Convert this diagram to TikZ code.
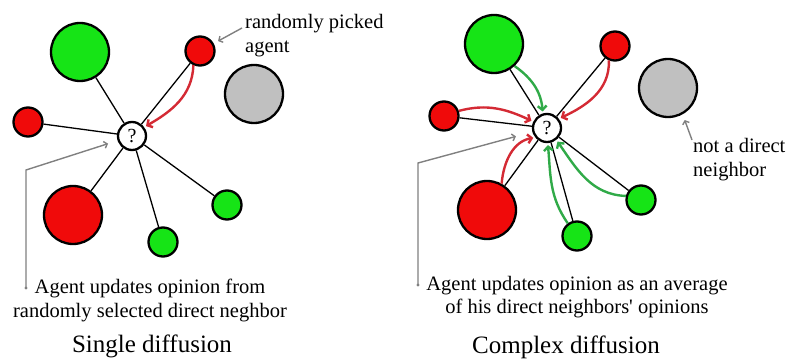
\documentclass[tikz,border=0pt]{standalone}
\usepackage{fontspec}
\setmainfont{Liberation Serif}
\usetikzlibrary{arrows.meta}
\definecolor{agreen}{RGB}{22,228,22}
\definecolor{ared}{RGB}{240,10,10}
\definecolor{agray}{RGB}{192,192,192}
\definecolor{flowred}{RGB}{212,42,52}
\definecolor{flowgreen}{RGB}{48,170,72}
\definecolor{notegray}{RGB}{128,128,128}
\begin{document}
\begin{tikzpicture}[x=1pt,y=1pt,
  agent/.style={circle, draw, line width=2.3pt, inner sep=0pt},
  big/.style={agent, minimum size=58pt},
  small/.style={agent, minimum size=29pt},
  focus/.style={agent, fill=white, minimum size=28pt, font=\fontsize{20}{20}\selectfont},
  link/.style={line width=1.3pt},
  rarr/.style={-{Straight Barb[length=4pt, width=9pt]}, line width=2.4pt, flowred, shorten >=2pt},
  garr/.style={rarr, flowgreen},
  note/.style={-{Straight Barb[length=3pt, width=7pt]}, line width=1.4pt, notegray},
  txt/.style={inner sep=0pt, font=\fontsize{20.5}{24}\selectfont},
  title/.style={inner sep=0pt, font=\fontsize{25}{25}\selectfont}]
\useasboundingbox (0,0) rectangle (789,359);
\node[big, fill=agreen] (bg1) at (80,307) {};
\node[small, fill=ared] (sr1) at (200,308) {};
\node[big, fill=agray] (gy1) at (254,265) {};
\node[small, fill=ared] (rl1) at (28,237) {};
\node[focus] (q1) at (132,223) {?};
\node[big, fill=ared] (br1) at (73,144) {};
\node[small, fill=agreen] (gb1) at (163,117) {};
\node[small, fill=agreen] (gr1) at (227,154) {};
\foreach \n in {bg1,sr1,rl1,br1,gb1,gr1} \draw[link] (q1) -- (\n);
\draw[rarr] (sr1.245) to[out=-92, in=30] (q1.36);
\node[txt, anchor=north west, align=left] (pick) at (245,345) {randomly picked\\agent};
\coordinate (pickfrom) at (242,331);
\draw[note, shorten >=5pt] (pickfrom) -- (sr1);
\node[txt, anchor=north, align=center] (upd1) at (150,80) {Agent updates opinion from\\randomly selected direct neghbor};
\coordinate (dot1) at (26,71);
\coordinate (bend1) at (26,189);
\fill[notegray] (dot1) circle (1.7pt);
\draw[note, shorten >=10pt] (dot1) -- (bend1) -- (q1);
\node[title, anchor=base] (t1) at (152,7) {Single diffusion};

\node[big, fill=agreen] (bg2) at (494,315) {};
\node[small, fill=ared] (sr2) at (615,313) {};
\node[big, fill=agray] (gy2) at (668,271) {};
\node[small, fill=ared] (rl2) at (444,243) {};
\node[focus] (q2) at (547,231) {?};
\node[big, fill=ared] (br2) at (487,149) {};
\node[small, fill=agreen] (gb2) at (577,123) {};
\node[small, fill=agreen] (gr2) at (641,159) {};
\foreach \n in {bg2,sr2,rl2,br2,gb2,gr2} \draw[link] (q2) -- (\n);
\draw[garr] (bg2.-47) to[out=-35, in=95] (q2.106);
\draw[rarr] (sr2.247) to[out=-88, in=25] (q2.38);
\draw[rarr] (rl2.19) to[out=15, in=155] (q2.155);
\draw[rarr] (br2.61) to[out=85, in=190] (q2.219);
\draw[garr] (gb2.126) to[out=125, in=-85] (q2.-87);
\draw[garr] (gr2.165) to[out=178, in=-55] (q2.-52);
\node[txt, anchor=north west, align=left] (nd) at (693,221) {not a direct\\neighbor};
\coordinate (ndfrom) at (692,219);
\draw[note, shorten >=6pt] (ndfrom) -- (gy2.-61);
\node[txt, anchor=north, align=center, font=\fontsize{20.5}{23.5}\selectfont] (upd2) at (577,83) {Agent updates opinion as an average\\of his direct neighbors\textquotesingle{} opinions};
\coordinate (dot2) at (418,74);
\coordinate (bend2) at (418,196);
\fill[notegray] (dot2) circle (1.7pt);
\draw[note, shorten >=17pt] (dot2) -- (bend2) -- (q2);
\node[title, anchor=base] (t2) at (566,6) {Complex diffusion};
\end{tikzpicture}
\end{document}
